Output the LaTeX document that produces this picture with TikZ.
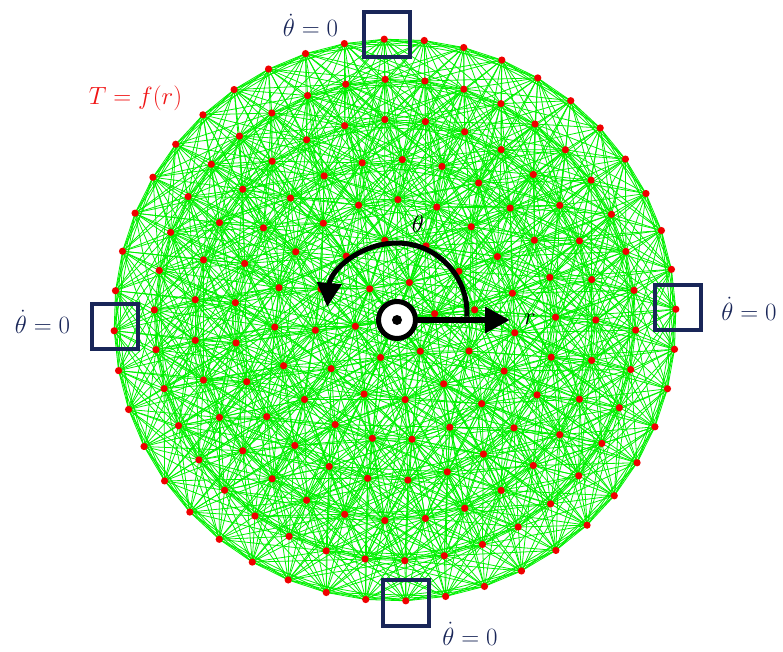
\documentclass[tikz,border=0pt]{standalone}
\usetikzlibrary{arrows.meta}
\definecolor{navy}{RGB}{25,38,88}
\definecolor{meshgreen}{RGB}{0,240,0}
\definecolor{dotred}{RGB}{240,0,0}
\definecolor{labelred}{RGB}{240,20,20}
\newcount\ptcount
\newdimen\ddx
\newdimen\ddy
\def\cutoff{130}
\tikzset{
  mesh/.style={draw=meshgreen, line width=0.8pt},
  ptdot/.style={fill=dotred},
  bcbox/.style={draw=navy, line width=3.8pt, minimum size=45.5pt, inner sep=0pt, rectangle},
  bclabel/.style={text=navy, font=\fontsize{24.88}{28}\selectfont, inner sep=0pt, anchor=base},
  symb/.style={line width=5pt, draw=black},
  symlabel/.style={font=\fontsize{24.88}{28}\selectfont, inner sep=0pt, anchor=base},
}
\begin{document}
\begin{tikzpicture}[x=1pt,y=-1pt]
\useasboundingbox (0,0) rectangle (783,652);
% ---- nodes of the point cloud: centre + 7 rings ----
\global\ptcount=1
\coordinate (p1) at (395,320);
\expandafter\xdef\csname px1\endcsname{395}
\expandafter\xdef\csname py1\endcsname{320}
\foreach \k/\n/\o in {1/6/9,2/12/7.3,3/19/-6.1,4/25/1,5/31/0,6/38/-2.4,7/44/2.2}{
  \foreach \m in {1,...,\n}{
    \pgfmathsetmacro\ang{\o+360*(\m-1)/\n}
    \pgfmathsetmacro\xx{395+40.15*\k*cos(\ang)}
    \pgfmathsetmacro\yy{320-40.15*\k*sin(\ang)}
    \global\advance\ptcount by 1
    \edef\pn{\the\ptcount}
    \expandafter\xdef\csname px\pn\endcsname{\xx}
    \expandafter\xdef\csname py\pn\endcsname{\yy}
    \coordinate (p\pn) at (\xx,\yy);
  }
}
\edef\N{\the\ptcount}
\pgfmathtruncatemacro\Nm{\N-1}
% ---- mesh connections ----
\foreach \i in {1,...,\Nm}{
  \pgfmathtruncatemacro\js{\i+1}
  \edef\pxi{\csname px\i\endcsname}
  \edef\pyi{\csname py\i\endcsname}
  \foreach \j in {\js,...,\N}{
    \ddx=\dimexpr\pxi pt-\csname px\j\endcsname pt\relax
    \ifdim\ddx<\cutoff pt\ifdim\ddx>-\cutoff pt
      \ddy=\dimexpr\pyi pt-\csname py\j\endcsname pt\relax
      \ifdim\ddy<\cutoff pt\ifdim\ddy>-\cutoff pt
        \pgfmathveclen{\ddx}{\ddy}%
        \ifdim\pgfmathresult pt<\cutoff pt
          \draw[mesh] (p\i) -- (p\j);
        \fi
      \fi\fi
    \fi\fi
  }
}
% ---- points ----
\foreach \i in {1,...,\N}{
  \fill[ptdot] (p\i) circle[radius=3.6pt];
}
% ---- boundary boxes ----
\node[bcbox] (bt) at (387,34.5) {};
\node[bcbox] (bl) at (115,326.5) {};
\node[bcbox] (br) at (678,307.5) {};
\node[bcbox] (bb) at (406,603) {};
% ---- labels ----
\node[bclabel] (lt) at (310.5,37) {$\dot{\theta} = 0$};
\node[bclabel] (ll) at (42.5,333) {$\dot{\theta} = 0$};
\node[bclabel] (lr) at (749,320) {$\dot{\theta} = 0$};
\node[bclabel] (lb) at (470,645) {$\dot{\theta} = 0$};
\node[text=labelred, font=\fontsize{26}{30}\selectfont, inner sep=0pt, anchor=base] (tf) at (135.5,105) {$T = f(r)$};
% ---- polar symbol ----
\node[circle, symb, fill=white, minimum size=37pt, inner sep=0pt] (c) at (397,320) {};
\fill[black] (c.center) circle[radius=5pt];
\coordinate (rtip) at (510,320);
\draw[line width=6.5pt, -{Triangle[length=25pt,width=25pt]}] (c.east) -- (rtip);
\coordinate (ths) at (466.9,316.7);
\draw[line width=5pt, -{Triangle[length=24pt,width=24pt]}] (ths) arc[start angle=3, end angle=-175, radius=70];
\node[symlabel] (th) at (418,232) {$\theta$};
\node[symlabel] (rl) at (530,324) {$r$};
\end{tikzpicture}
\end{document}
